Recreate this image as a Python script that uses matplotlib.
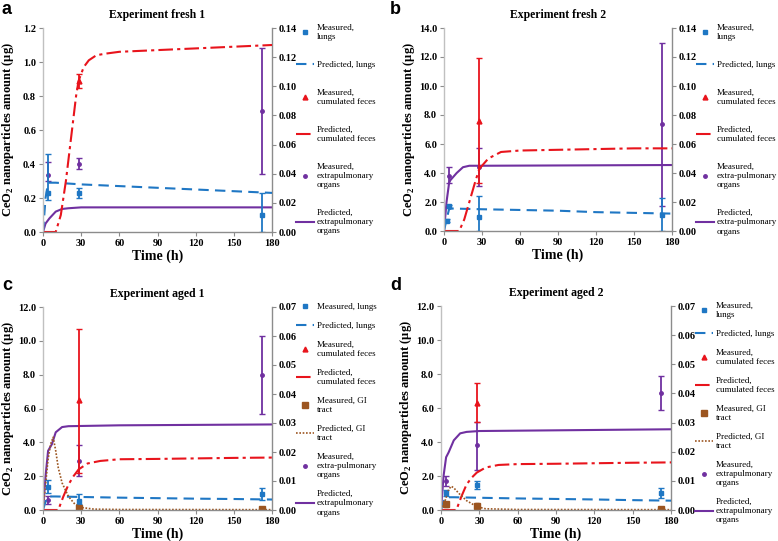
import matplotlib
matplotlib.use("Agg")
import matplotlib.pyplot as plt
import numpy as np

plt.rcParams['font.family'] = ['Liberation Serif', 'DejaVu Serif']
plt.rcParams['mathtext.fontset'] = 'custom'
plt.rcParams['mathtext.rm'] = 'Liberation Serif'
plt.rcParams['mathtext.bf'] = 'Liberation Serif:bold'

# ---------------- data ----------------
# Panel a: Experiment fresh 1 (left axis: lungs, feces; right axis: extrapulmonary)
a_lung_pred_t = [0, 2, 4, 10, 30, 60, 90, 120, 150, 180]
a_lung_pred_v = [0, 0.2, 0.29, 0.29, 0.28, 0.27, 0.26, 0.25, 0.24, 0.23]
a_lung_meas_t = [4, 28, 172]
a_lung_meas_v = [0.23, 0.23, 0.10]
a_lung_meas_lo = [0.19, 0.20, 0.0]
a_lung_meas_hi = [0.46, 0.26, 0.23]
a_fec_pred_t = [0, 10, 14, 18, 22, 26, 28, 32, 36, 42, 50, 60, 90, 120, 150, 180]
a_fec_pred_v = [0, 0, 0.1, 0.3, 0.55, 0.8, 0.89, 0.97, 1.01, 1.04, 1.05, 1.06, 1.07, 1.08, 1.09, 1.1]
a_fec_meas_t = [28]
a_fec_meas_v = [0.89]
a_fec_meas_lo = [0.85]
a_fec_meas_hi = [0.93]
a_ext_pred_t = [0, 2, 5, 10, 15, 20, 30, 180]
a_ext_pred_v = [0, 0.0058, 0.0093, 0.014, 0.0158, 0.0163, 0.0169, 0.0169]
a_ext_meas_t = [4, 28, 172]
a_ext_meas_v = [0.039, 0.0467, 0.083]
a_ext_meas_lo = [0.035, 0.043, 0.040]
a_ext_meas_hi = [0.048, 0.051, 0.126]

# Panel b: Experiment fresh 2
b_lung_pred_t = [0, 2, 4, 6, 30, 60, 90, 120, 150, 180]
b_lung_pred_v = [0, 0.8, 1.5, 1.55, 1.5, 1.45, 1.4, 1.3, 1.25, 1.2]
b_lung_meas_t = [2, 4, 28, 172]
b_lung_meas_v = [0.7, 1.7, 1.0, 1.1]
b_lung_meas_lo = [0.6, 1.6, 0.0, 0.0]
b_lung_meas_hi = [0.8, 1.8, 2.4, 2.3]
b_fec_pred_t = [0, 12, 16, 20, 25, 28, 35, 45, 60, 90, 120, 150, 180]
b_fec_pred_v = [0, 0, 0.8, 2.0, 3.5, 4.3, 5.0, 5.45, 5.55, 5.6, 5.65, 5.7, 5.7]
b_fec_meas_t = [28]
b_fec_meas_v = [7.6]
b_fec_meas_lo = [3.3]
b_fec_meas_hi = [11.9]
b_ext_pred_t = [0, 2, 4, 5, 6, 10, 15, 20, 30, 180]
b_ext_pred_v = [0, 0.02, 0.033, 0.035, 0.036, 0.040, 0.044, 0.045, 0.045, 0.0455]
b_ext_meas_t = [4, 28, 172]
b_ext_meas_v = [0.038, 0.044, 0.074]
b_ext_meas_lo = [0.033, 0.031, 0.017]
b_ext_meas_hi = [0.044, 0.057, 0.130]

# Panel c: Experiment aged 1
c_lung_pred_t = [0, 2, 4, 10, 30, 60, 90, 120, 150, 180]
c_lung_pred_v = [0, 0.5, 0.8, 0.8, 0.77, 0.73, 0.7, 0.67, 0.65, 0.62]
c_lung_meas_t = [4, 28, 172]
c_lung_meas_v = [1.35, 0.55, 0.95]
c_lung_meas_lo = [1.0, 0.35, 0.6]
c_lung_meas_hi = [1.75, 0.95, 1.3]
c_fec_pred_t = [0, 12, 16, 20, 24, 28, 35, 45, 60, 90, 120, 150, 180]
c_fec_pred_v = [0, 0, 0.8, 1.5, 2.0, 2.4, 2.75, 2.9, 3.0, 3.02, 3.05, 3.08, 3.1]
c_fec_meas_t = [28]
c_fec_meas_v = [6.5]
c_fec_meas_lo = [2.2]
c_fec_meas_hi = [10.7]
c_gi_pred_t = [0, 2, 4, 6, 8, 10, 12, 15, 20, 25, 30, 40, 60, 180]
c_gi_pred_v = [0, 1.5, 3.0, 3.9, 4.3, 3.5, 2.5, 1.6, 0.8, 0.35, 0.15, 0.05, 0.03, 0.02]
c_gi_meas_t = [28, 172]
c_gi_meas_v = [0.12, 0.05]
c_ext_pred_t = [0, 2, 4, 7, 10, 15, 20, 60, 180]
c_ext_pred_v = [0, 0.0117, 0.0204, 0.0227, 0.0268, 0.0286, 0.0289, 0.0292, 0.0295]
c_ext_meas_t = [4, 28, 172]
c_ext_meas_v = [0.0035, 0.0169, 0.0464]
c_ext_meas_lo = [0.0020, 0.0117, 0.0330]
c_ext_meas_hi = [0.0050, 0.0225, 0.0600]

# Panel d: Experiment aged 2
d_lung_pred_t = [0, 2, 4, 10, 30, 60, 90, 120, 150, 180]
d_lung_pred_v = [0, 0.5, 0.75, 0.75, 0.72, 0.68, 0.65, 0.62, 0.58, 0.55]
d_lung_meas_t = [4, 28, 172]
d_lung_meas_v = [1.0, 1.45, 1.0]
d_lung_meas_lo = [0.8, 1.25, 0.7]
d_lung_meas_hi = [1.2, 1.7, 1.3]
d_fec_pred_t = [0, 12, 16, 20, 24, 28, 35, 45, 60, 90, 120, 150, 180]
d_fec_pred_v = [0, 0, 0.8, 1.5, 1.9, 2.2, 2.5, 2.65, 2.7, 2.72, 2.75, 2.78, 2.8]
d_fec_meas_t = [28]
d_fec_meas_v = [6.3]
d_fec_meas_lo = [5.2]
d_fec_meas_hi = [7.5]
d_gi_pred_t = [0, 3, 6, 8, 10, 15, 20, 28, 35, 60, 180]
d_gi_pred_v = [0, 0.5, 1.2, 1.4, 1.3, 0.9, 0.55, 0.2, 0.07, 0.03, 0.02]
d_gi_meas_t = [4, 28, 172]
d_gi_meas_v = [0.35, 0.25, 0.05]
d_gi_meas_lo = [0.2, 0.1, 0.03]
d_gi_meas_hi = [0.5, 0.4, 0.07]
d_ext_pred_t = [0, 2, 4, 6, 10, 15, 20, 30, 180]
d_ext_pred_v = [0, 0.0117, 0.0181, 0.0198, 0.0239, 0.0263, 0.0268, 0.0271, 0.0277]
d_ext_meas_t = [4, 28, 172]
d_ext_meas_v = [0.0099, 0.0222, 0.0402]
d_ext_meas_lo = [0.0082, 0.0137, 0.0344]
d_ext_meas_hi = [0.0117, 0.0303, 0.0461]

titles = ["Experiment fresh 1", "Experiment fresh 2", "Experiment aged 1", "Experiment aged 2"]
letters = ["a", "b", "c", "d"]
x_ticks = [0, 30, 60, 90, 120, 150, 180]

BLUE = '#1f77c4'
RED = '#e8141c'
PURPLE = '#7030a0'
BROWN = '#9c5520'
GRAY = '#8c8c8c'

fig = plt.figure(figsize=(7.78, 5.41), dpi=100)

positions = [
    [43/778, 1-232/541, 229/778, 204/541],
    [444/778, 1-231/541, 228/778, 203/541],
    [43/778, 1-510/541, 229/778, 203/541],
    [441/778, 1-510/541, 230/778, 204/541],
]
letter_xy = [(2, 1), (390, 1), (2, 277), (390, 277)]


def err(v, lo, hi):
    v = np.asarray(v, float)
    return [v - np.asarray(lo, float), np.asarray(hi, float) - v]


def style_axes(ax, ax2, ymax_l, yticks_l, ymax_r, yticks_r, title, letter, lxy):
    ax.set_xlim(0, 180)
    ax.set_ylim(0, ymax_l)
    ax2.set_ylim(0, ymax_r)
    ax.set_xticks(x_ticks)
    ax.set_yticks(yticks_l)
    ax2.set_yticks(yticks_r)
    ax.set_yticklabels(['%.1f' % v for v in yticks_l])
    ax2.set_yticklabels(['%.2f' % v for v in yticks_r])
    for a_ in (ax, ax2):
        a_.spines['top'].set_visible(False)
    ax.spines['right'].set_visible(False)
    ax2.spines['left'].set_visible(False)
    ax2.spines['bottom'].set_visible(False)
    ax.spines['left'].set_color('#c0c0c0')
    ax.spines['bottom'].set_color(GRAY)
    ax2.spines['right'].set_color(GRAY)
    for s in (ax.spines['left'], ax.spines['bottom'], ax2.spines['right']):
        s.set_linewidth(1.0)
    ax.tick_params(axis='both', direction='out', length=3, width=0.8, color=GRAY,
                   labelsize=7.5, pad=2)
    ax2.tick_params(axis='y', direction='out', length=3, width=0.8, color=GRAY,
                    labelsize=7.5, pad=2)
    for lab in ax.get_xticklabels() + ax.get_yticklabels() + ax2.get_yticklabels():
        lab.set_fontweight('bold')
    ax.set_xlabel('Time (h)', fontsize=10, fontweight='bold', labelpad=1)
    ax.set_ylabel(r'CeO$_\mathbf{2}$ nanoparticles amount (µg)', fontsize=9,
                  fontweight='bold')
    ax.yaxis.set_label_coords(-27 / 229, 0.5)
    ax.set_title(title, fontsize=8.5, fontweight='bold', pad=7)
    fig.text(lxy[0] / 778, 1 - lxy[1] / 541, letter, fontsize=13, fontweight='bold',
             family='Liberation Sans', va='top', ha='left')


def draw_panel(pos, lung_pred, lung_meas, fec_pred, fec_meas, ext_pred, ext_meas,
               gi_pred, gi_meas, ymax_l, yticks_l, ymax_r, yticks_r, title, letter, lxy,
               labels, leg_spacing):
    ax = fig.add_axes(pos)
    ax2 = ax.twinx()
    ax.set_zorder(ax2.get_zorder() + 1)
    ax.patch.set_visible(False)
    # lungs
    h1 = ax.errorbar(lung_meas[0], lung_meas[1], yerr=err(*lung_meas[1:]), fmt='s', ms=3,
                     color=BLUE, ecolor=BLUE, elinewidth=1.3, capsize=2, capthick=1)
    h2, = ax.plot(lung_pred[0], lung_pred[1], color=BLUE, lw=1.5, ls=(0, (5, 3)))
    # feces
    h3 = ax.errorbar(fec_meas[0], fec_meas[1], yerr=err(*fec_meas[1:]), fmt='^', ms=3.5,
                     color=RED, ecolor=RED, elinewidth=1.3, capsize=2, capthick=1)
    h4, = ax.plot(fec_pred[0], fec_pred[1], color=RED, lw=1.5, ls=(0, (7, 2, 1.5, 2)))
    handles = [h1[0], h2, h3[0], h4]
    if gi_pred is not None:
        if len(gi_meas) > 2:
            h5 = ax.errorbar(gi_meas[0], gi_meas[1], yerr=err(*gi_meas[1:]), fmt='s', ms=4.5,
                             color=BROWN, ecolor=BROWN, elinewidth=1.2, capsize=1.5)
            h5 = h5[0]
        else:
            h5, = ax.plot(gi_meas[0], gi_meas[1], 's', ms=4.5, color=BROWN)
        h6, = ax.plot(gi_pred[0], gi_pred[1], color=BROWN, lw=1.2, ls=(0, (1, 1)))
        handles += [h5, h6]
    # extrapulmonary (right axis)
    h7 = ax2.errorbar(ext_meas[0], ext_meas[1], yerr=err(*ext_meas[1:]), fmt='o', ms=2.5,
                      color=PURPLE, ecolor=PURPLE, elinewidth=1.3, capsize=2, capthick=1)
    h8, = ax2.plot(ext_pred[0], ext_pred[1], color=PURPLE, lw=1.5)
    handles += [h7[0], h8]
    style_axes(ax, ax2, ymax_l, yticks_l, ymax_r, yticks_r, title, letter, lxy)
    ax.legend(handles, labels, loc='upper left', bbox_to_anchor=(1.09, 1.04),
              frameon=False, fontsize=6.5, handlelength=2.0, handletextpad=0.3,
              labelspacing=leg_spacing, borderaxespad=0)
    return ax, ax2


labels_a = ["Measured,\nlungs", "Predicted, lungs", "Measured,\ncumulated feces",
            "Predicted,\ncumulated feces", "Measured,\nextrapulmonary\norgans",
            "Predicted,\nextrapulmonary\norgans"]
labels_b = ["Measured,\nlungs", "Predicted, lungs", "Measured,\ncumulated feces",
            "Predicted,\ncumulated feces", "Measured,\nextra-pulmonary\norgans",
            "Predicted,\nextra-pulmonary\norgans"]
labels_c = ["Measured, lungs", "Predicted, lungs", "Measured,\ncumulated feces",
            "Predicted,\ncumulated feces", "Measured, GI\ntract", "Predicted, GI\ntract",
            "Measured,\nextra-pulmonary\norgans", "Predicted,\nextrapulmonary\norgans"]
labels_d = ["Measured,\nlungs", "Predicted, lungs", "Measured,\ncumulated feces",
            "Predicted,\ncumulated feces", "Measured, GI\ntract", "Predicted, GI\ntract",
            "Measured,\nextrapulmonary\norgans", "Predicted,\nextrapulmonary\norgans"]

draw_panel(positions[0],
           (a_lung_pred_t, a_lung_pred_v),
           (a_lung_meas_t, a_lung_meas_v, a_lung_meas_lo, a_lung_meas_hi),
           (a_fec_pred_t, a_fec_pred_v),
           (a_fec_meas_t, a_fec_meas_v, a_fec_meas_lo, a_fec_meas_hi),
           (a_ext_pred_t, a_ext_pred_v),
           (a_ext_meas_t, a_ext_meas_v, a_ext_meas_lo, a_ext_meas_hi),
           None, None, 1.2, [0, 0.2, 0.4, 0.6, 0.8, 1.0, 1.2], 0.14,
           [0, 0.02, 0.04, 0.06, 0.08, 0.10, 0.12, 0.14], titles[0], letters[0], letter_xy[0],
           labels_a, 2.2)

draw_panel(positions[1],
           (b_lung_pred_t, b_lung_pred_v),
           (b_lung_meas_t, b_lung_meas_v, b_lung_meas_lo, b_lung_meas_hi),
           (b_fec_pred_t, b_fec_pred_v),
           (b_fec_meas_t, b_fec_meas_v, b_fec_meas_lo, b_fec_meas_hi),
           (b_ext_pred_t, b_ext_pred_v),
           (b_ext_meas_t, b_ext_meas_v, b_ext_meas_lo, b_ext_meas_hi),
           None, None, 14, [0, 2, 4, 6, 8, 10, 12, 14], 0.14,
           [0, 0.02, 0.04, 0.06, 0.08, 0.10, 0.12, 0.14], titles[1], letters[1], letter_xy[1],
           labels_b, 2.2)

draw_panel(positions[2],
           (c_lung_pred_t, c_lung_pred_v),
           (c_lung_meas_t, c_lung_meas_v, c_lung_meas_lo, c_lung_meas_hi),
           (c_fec_pred_t, c_fec_pred_v),
           (c_fec_meas_t, c_fec_meas_v, c_fec_meas_lo, c_fec_meas_hi),
           (c_ext_pred_t, c_ext_pred_v),
           (c_ext_meas_t, c_ext_meas_v, c_ext_meas_lo, c_ext_meas_hi),
           (c_gi_pred_t, c_gi_pred_v), (c_gi_meas_t, c_gi_meas_v),
           12, [0, 2, 4, 6, 8, 10, 12], 0.07,
           [0, 0.01, 0.02, 0.03, 0.04, 0.05, 0.06, 0.07], titles[2], letters[2], letter_xy[2],
           labels_c, 1.2)

draw_panel(positions[3],
           (d_lung_pred_t, d_lung_pred_v),
           (d_lung_meas_t, d_lung_meas_v, d_lung_meas_lo, d_lung_meas_hi),
           (d_fec_pred_t, d_fec_pred_v),
           (d_fec_meas_t, d_fec_meas_v, d_fec_meas_lo, d_fec_meas_hi),
           (d_ext_pred_t, d_ext_pred_v),
           (d_ext_meas_t, d_ext_meas_v, d_ext_meas_lo, d_ext_meas_hi),
           (d_gi_pred_t, d_gi_pred_v), (d_gi_meas_t, d_gi_meas_v, d_gi_meas_lo, d_gi_meas_hi),
           12, [0, 2, 4, 6, 8, 10, 12], 0.07,
           [0, 0.01, 0.02, 0.03, 0.04, 0.05, 0.06, 0.07], titles[3], letters[3], letter_xy[3],
           labels_d, 1.2)

fig.savefig('out.png', dpi=100)
